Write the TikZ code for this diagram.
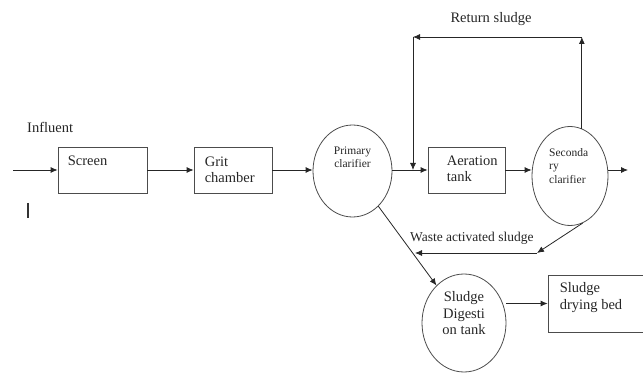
\documentclass[tikz,border=0pt]{standalone}
\usepackage{fontspec}
\setmainfont{Liberation Serif}
\usetikzlibrary{positioning, arrows.meta, shapes.geometric}
\newcommand{\procarrow}{-{Latex[length=7pt,width=6pt]}}
\newcommand{\mainsize}{\fontsize{14.5}{16.5}\selectfont}
\newcommand{\smallsize}{\fontsize{11.5}{13.5}\selectfont}

\begin{document}
\begin{tikzpicture}[x=1pt, y=-1pt,
    unit/.style={draw=black!70, line width=0.8pt, minimum height=46pt, inner sep=0pt},
    tank/.style={ellipse, draw=black!70, line width=0.8pt, inner sep=0pt},
    txt/.style={inner sep=0pt, align=left, font=\mainsize, text=black!85},
    smalltxt/.style={inner sep=0pt, align=left, font=\smallsize, text=black!85},
    conn/.style={draw=black!85, line width=0.8pt}]
        \useasboundingbox (0,0) rectangle (643,374);
        \clip (0,0) rectangle (643,374);
        \node[txt, anchor=base west] (influent) at (27,133) {Influent};
        \coordinate (feed) at (13,170);
        \node[unit, minimum width=89pt] (screen) at (102.5,170) {};
        \node[unit, minimum width=78pt] (grit) at (233,170) {};
        \node[tank, minimum width=79pt, minimum height=92pt] (primary) at (352.5,171) {};
        \node[unit, minimum width=77pt] (aeration) at (466.5,170) {};
        \node[tank, minimum width=76pt, minimum height=99pt] (secondary) at (570,176) {};
        \coordinate (effluent) at (628,170);
        \node[tank, minimum width=84pt, minimum height=98pt] (digester) at (464,323) {};
        \node[unit, minimum width=100pt, minimum height=57pt] (dryingbed) at (598,303.5) {};

        \node[txt, below right=9pt and 10pt of screen.north west] (screentext) {Screen};
        \node[txt, below right=10pt and 11pt of grit.north west] (grittext) {Grit\\chamber};
        \node[txt, below right=9pt and 19pt of aeration.north west] (aerationtext) {Aeration\\tank};
        \node[txt, below right=8pt and 12pt of dryingbed.north west] (bedtext) {Sludge\\drying bed};
        \node[smalltxt, align=center, below=22pt of primary.north] (primarytext) {Primary\\clarifier};
        \node[smalltxt, anchor=north west] (secondarytext) at (549,148) {Seconda\\ry\\clarifier};
        \node[txt, align=center, below=18pt of digester.north] (digestertext) {Sludge\\Digesti\\on tank};
        \node[txt, anchor=base] (returnlabel) at (491,23) {Return sludge};
        \node[txt, anchor=base west, font=\fontsize{13.5}{16}\selectfont] (wastelabel) at (410,242) {Waste activated sludge};

        \coordinate (returnjoin) at (413,170);
        \coordinate (returnleft) at (413,37);
        \coordinate (returnright) at (secondary.76 |- returnleft);
        \coordinate (wasteright) at (537,253);
        \coordinate (wasteleft) at (415,253);

        \draw[conn, \procarrow] (feed) -- (screen);
        \draw[conn, \procarrow] (screen) -- (grit);
        \draw[conn, \procarrow] (grit.east) -- (grit.east -| primary.west);
        \draw[conn, \procarrow] (primary.east |- aeration.west) -- (aeration.west);
        \draw[conn, \procarrow] (aeration.east) -- (aeration.east -| secondary.west);
        \draw[conn, \procarrow] (secondary.east |- aeration.east) -- (effluent);
        \draw[conn, \procarrow] (secondary.76) -- (returnright);
        \draw[conn, \procarrow] (returnright) -- (returnleft);
        \draw[conn, \procarrow] (returnleft) -- (returnjoin);
        \draw[conn, \procarrow] (secondary.-75) -- (wasteright);
        \draw[conn, \procarrow] (wasteright) -- (wasteleft);
        \draw[conn, \procarrow] (primary) -- (digester);
        \draw[conn, \procarrow] (digester.east |- dryingbed.west) -- (dryingbed.west);
        \draw[line width=1.2pt, black!80] (28,203) -- (28,218);
    \end{tikzpicture}
\end{document}
